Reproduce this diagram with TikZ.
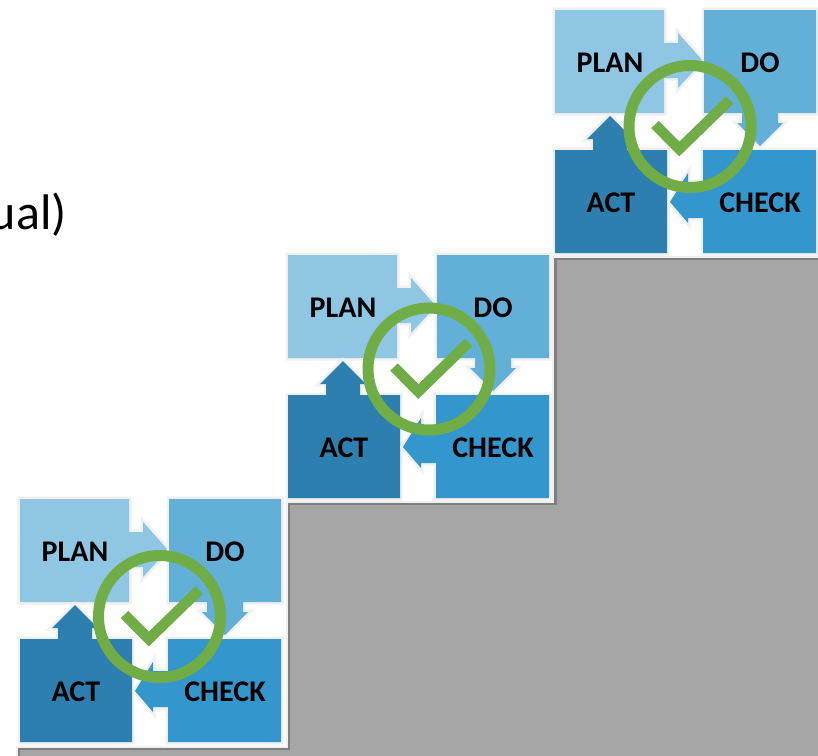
\documentclass[tikz,border=0pt]{standalone}
\usepackage{fontspec}
\setmainfont{Carlito}
\usepackage{xcolor}
\definecolor{planblue}{HTML}{8FC6E4}
\definecolor{doblue}{HTML}{62AFD8}
\definecolor{checkblue}{HTML}{3397CD}
\definecolor{actblue}{HTML}{2C7FAE}
\definecolor{ringgreen}{HTML}{70AD47}
\definecolor{stepgray}{HTML}{A5A5A5}
\definecolor{stepedge}{HTML}{7F7F7F}
\definecolor{edgegray}{HTML}{F0F0F0}
\tikzset{
  square/.style={fill=#1,preaction={draw=edgegray,line width=5pt}},
  tag/.style={font=\bfseries\fontsize{30}{30}\selectfont,text=black,inner sep=0pt},
}

\begin{document}
\begin{tikzpicture}[x=1pt,y=-1pt]

      \useasboundingbox (0,0) rectangle (818,755);
      \clip (0,0) rectangle (818,755);
      \fill[white] (0,0) rectangle (818,755);

      \node[anchor=base east,inner sep=0pt,font=\fontsize{50}{50}\selectfont] (word) at (67,229) {ual)};

      \filldraw[fill=stepgray,draw=stepedge,line width=2.5pt,preaction={draw=edgegray,line width=7pt}] (19,765) -- (19,749) -- (289,749) -- (289,504) -- (555.5,504) -- (555.5,259) -- (830,259) -- (830,765) -- cycle;

      \foreach \i/\x/\y/\rx/\ry in {1/20/499/139.5/117.5,2/288/255/141/114,3/555/10/135/116.5}
      {
        \begin{scope}[shift={(\x,\y)}]
          \path[square=planblue] (0,0) -- (109,0) -- (109,33) -- (123,33) -- (123,23) -- (148,51) -- (123,78) -- (123,68) -- (109,68) -- (109,103) -- (0,103) -- cycle;
          \path[square=doblue] (149,0) -- (261,0) -- (261,103) -- (223,103) -- (223,113) -- (228,113) -- (205,136) -- (182,113) -- (187,113) -- (187,103) -- (149,103) -- cycle;
          \path[square=actblue] (0,140) -- (38,140) -- (38,129) -- (32,129) -- (55,106) -- (78,129) -- (72,129) -- (72,140) -- (112,140) -- (112,243) -- (0,243) -- cycle;
          \path[square=checkblue] (148,140) -- (261,140) -- (261,243) -- (148,243) -- (148,208) -- (133,208) -- (133,213) -- (115,192) -- (133,163) -- (133,172) -- (148,172) -- cycle;

          \node[tag] (plan\i) at (55,53) {PLAN};
          \node[tag] (do\i) at (205,53) {DO};
          \node[tag] (act\i) at (56,193) {ACT};
          \node[tag] (check\i) at (205,193) {CHECK};

          \coordinate (ring\i) at (\rx,\ry);
          \draw[ringgreen,line width=11pt] (ring\i) circle (61);
          \draw[ringgreen,line width=10.5pt] (ring\i) ++(-35,-2) -- ++(24.3,24.5) -- ++(50.4,-49);
        \end{scope}
      }
    \end{tikzpicture}
\end{document}
